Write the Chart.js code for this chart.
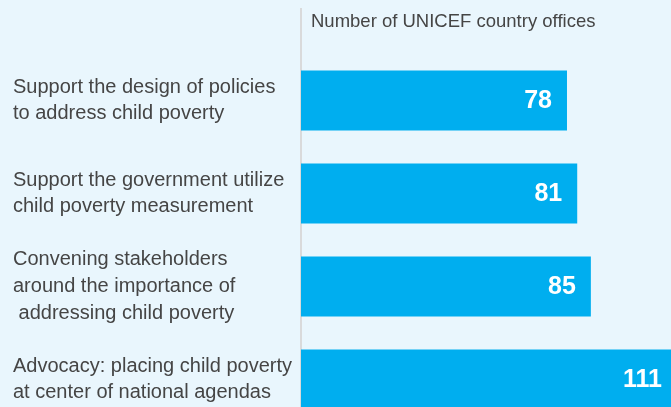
<!DOCTYPE html>
<html lang="en">
<head>
    <meta charset="UTF-8">
    <title>UNICEF country offices</title>
    <script src="https://cdn.jsdelivr.net/npm/chart.js"></script>
    <style>
        html, body { margin: 0; padding: 0; overflow: hidden; background: #e9f6fd; }
        #wrap { width: 671px; height: 426px; }
    </style>
</head>
<body>
    <div id="wrap"><canvas id="barChart"></canvas></div>
    <script>
        const categories = [
            ["Support the design of policies", "to address child poverty"],
            ["Support the government utilize", "child poverty measurement"],
            ["Convening stakeholders", "around the importance of", " addressing child poverty"],
            ["Advocacy: placing child poverty", "at center of national agendas"]
        ];
        const offices = [78, 81, 85, 111];
        const axisTitle = "Number of UNICEF country offices";

        // gray axis line, title above the bars, white value labels
        const decorations = {
            id: 'decorations',
            beforeDatasetsDraw(chart) {
                const ctx = chart.ctx;
                const area = chart.chartArea;
                ctx.save();
                ctx.strokeStyle = '#d9dadb';
                ctx.lineWidth = 2;
                ctx.beginPath();
                ctx.moveTo(area.left, 8);
                ctx.lineTo(area.left, chart.height);
                ctx.stroke();
                ctx.fillStyle = '#454545';
                ctx.font = '18.5px "Liberation Sans", Arial, sans-serif';
                ctx.textBaseline = 'middle';
                ctx.textAlign = 'left';
                ctx.fillText(axisTitle, area.left + 10, 22);
                ctx.restore();
            },
            afterDatasetsDraw(chart) {
                const ctx = chart.ctx;
                const area = chart.chartArea;
                ctx.save();
                ctx.fillStyle = '#ffffff';
                ctx.font = 'bold 25px "Liberation Sans", Arial, sans-serif';
                ctx.textAlign = 'right';
                ctx.textBaseline = 'middle';
                chart.getDatasetMeta(0).data.forEach((bar, i) => {
                    const x = Math.min(bar.x - 15, area.right - 9);
                    ctx.fillText(String(offices[i]), x, bar.y + 1);
                });
                ctx.restore();
            }
        };

        const ctx = document.getElementById("barChart").getContext("2d");
        const chart = new Chart(ctx, {
            type: 'bar',
            data: {
                labels: categories,
                datasets: [{
                    data: offices,
                    backgroundColor: '#00aeef',
                    borderWidth: 0,
                    categoryPercentage: 1,
                    barPercentage: 0.645
                }]
            },
            options: {
                indexAxis: 'y',
                responsive: true,
                maintainAspectRatio: false,
                animation: false,
                layout: { padding: { left: 13, top: 54, right: 0, bottom: 0 } },
                plugins: {
                    legend: { display: false },
                    tooltip: { enabled: false }
                },
                scales: {
                    x: {
                        display: false,
                        min: 0,
                        max: 108.5
                    },
                    y: {
                        grid: { display: false, drawTicks: false },
                        border: { display: false },
                        ticks: {
                            crossAlign: 'far',
                            color: '#454545',
                            font: { family: '"Liberation Sans", Arial, sans-serif', size: 20, lineHeight: 1.33 }
                        },
                        afterFit(scale) {
                            scale.width = 288;
                            scale.paddingTop = 0;
                            scale.paddingBottom = 0;
                        }
                    }
                }
            },
            plugins: [decorations]
        });
    </script>
</body>
</html>
